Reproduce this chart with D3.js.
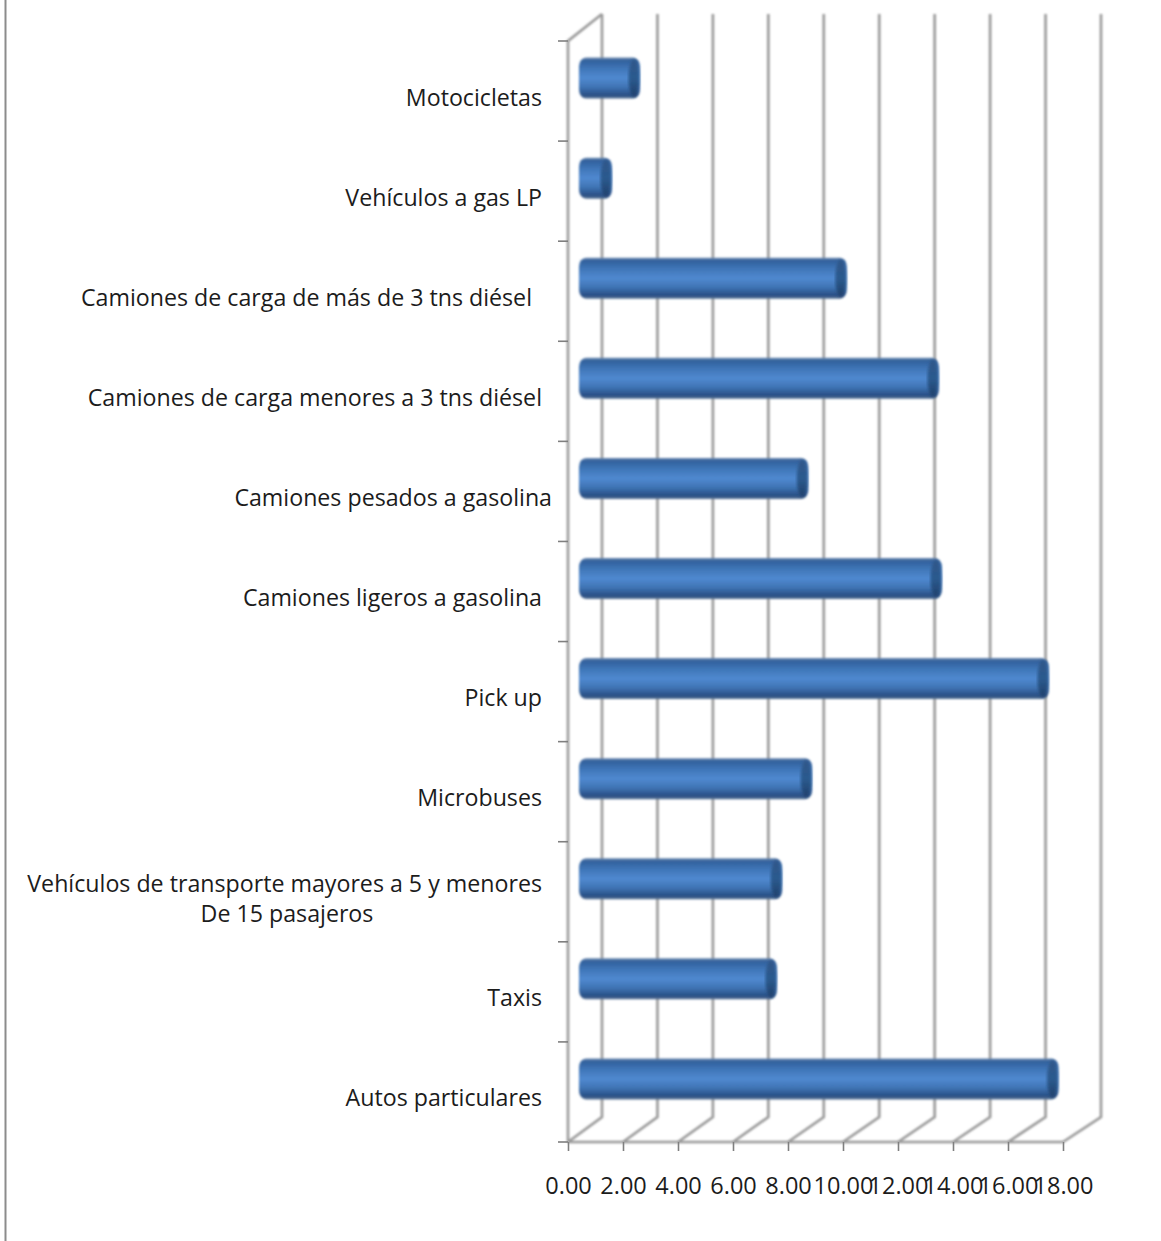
<!DOCTYPE html>
<html><head><meta charset="utf-8">
<script src="https://cdn.jsdelivr.net/npm/d3@7/dist/d3.min.js"></script>
<style>html,body{margin:0;padding:0;background:#fff}svg{display:block}text{font-family:"Open Sans",Lato,sans-serif;fill:#1c1c1c}</style>
</head><body><svg id="c" width="1161" height="1241"></svg>
<script>
const categories = ["Autos particulares","Taxis","Vehículos de transporte mayores a 5 y menores","Microbuses","Pick up","Camiones ligeros a gasolina","Camiones pesados a gasolina","Camiones de carga menores a 3 tns diésel","Camiones de carga de más de 3 tns diésel","Vehículos a gas LP","Motocicletas"];
const values = [17.0,6.76,6.95,8.04,16.65,12.76,7.9,12.65,9.3,0.76,1.78];
const labelShift = [0,0,0,0,0,0,10,0,-10,0,0];
const labelRise = [0,0,14,0,0,0,0,0,0,0,0];
const xTicks = [0,2,4,6,8,10,12,14,16,18];

const svg = d3.select("#c");
const x = d3.scaleLinear().domain([0,18]).range([568,1063]);
const xBack = d3.scaleLinear().domain([0,18]).range([602,1101]);
const y = d3.scaleBand().domain(categories).range([1142,41]);
const grid = "#989898", floorBack = 1117, wallTop = 14;

const defs = svg.append("defs");
const g = defs.append("linearGradient").attr("id","body").attr("x1",0).attr("y1",0).attr("x2",0).attr("y2",1);
[[0,"#6f8cb0"],[0.07,"#31609c"],[0.28,"#4077b9"],[0.5,"#5089d0"],[0.72,"#3f74b4"],[0.92,"#284e84"],[1,"#5a7596"]].forEach(s=>g.append("stop").attr("offset",s[0]).attr("stop-color",s[1]));
const c = defs.append("linearGradient").attr("id","cap").attr("x1",0).attr("y1",0).attr("x2",0).attr("y2",1);
[[0,"#2f5688"],[0.5,"#2b5a8e"],[1,"#1f3f6a"]].forEach(s=>c.append("stop").attr("offset",s[0]).attr("stop-color",s[1]));
defs.append("filter").attr("id","soft").append("feGaussianBlur").attr("stdDeviation",0.8);
defs.append("filter").attr("id","softer").append("feGaussianBlur").attr("stdDeviation",1.6);

svg.append("line").attr("x1",5.5).attr("x2",5.5).attr("y1",0).attr("y2",1241).attr("stroke","#8c8c8c").attr("stroke-width",2);

const walls = svg.append("g").attr("filter","url(#soft)").attr("fill","none").attr("stroke",grid).attr("stroke-width",2.6);
xTicks.forEach(t=>{
  walls.append("path").attr("d",d3.line()([[x(t),1142],[xBack(t),floorBack],[xBack(t),wallTop]]));
});
walls.append("path").attr("d",d3.line()([[x(0),1142],[x(0),41],[xBack(0),wallTop]]));
walls.append("path").attr("d",d3.line()([[x(0),1142],[x(18),1142]]));

const axB = svg.append("g").attr("transform","translate(0,1142)").call(d3.axisBottom(x).tickValues(xTicks).tickFormat(d3.format(".2f")).tickSize(9).tickPadding(26));
axB.select(".domain").remove();
axB.selectAll("line").attr("stroke","#7f7f7f").attr("stroke-width",1.6);
axB.selectAll("text").style("font-size","23.5px").attr("font-family",null);

const yTicks = categories.map(d=>y(d)+y.bandwidth()).concat([41]);
svg.append("g").selectAll("line").data(yTicks).join("line").attr("x1",558).attr("x2",568).attr("y1",d=>d).attr("y2",d=>d).attr("stroke","#7f7f7f").attr("stroke-width",1.6);

svg.append("g").selectAll("text").data(categories).join("text")
 .attr("x",(d,i)=>542+labelShift[i]).attr("y",(d,i)=>y(d)+y.bandwidth()/2+14.5-labelRise[i])
 .attr("text-anchor","end").style("font-size","23.2px").text(d=>d);
svg.append("text").attr("x",287).attr("y",922).attr("text-anchor","middle").style("font-size","23.2px").text("De 15 pasajeros");

const bh = 41, rx = 7;
const bars = svg.append("g").selectAll("g").data(categories).join("g");
bars.each(function(d,i){
  const sel = d3.select(this);
  const cy = y(d)+y.bandwidth()/2-13;
  const x0 = x(0)+18, x1 = x(values[i])+17;
  sel.append("rect").attr("filter","url(#soft)").attr("x",x0-rx).attr("y",cy-bh/2).attr("width",x1-x0+rx+6).attr("height",bh).attr("rx",rx).attr("ry",9).attr("fill","url(#body)");
  sel.append("ellipse").attr("filter","url(#softer)").attr("cx",x1).attr("cy",cy).attr("rx",5.5).attr("ry",bh/2-2).attr("fill","url(#cap)");
});
</script></body></html>
